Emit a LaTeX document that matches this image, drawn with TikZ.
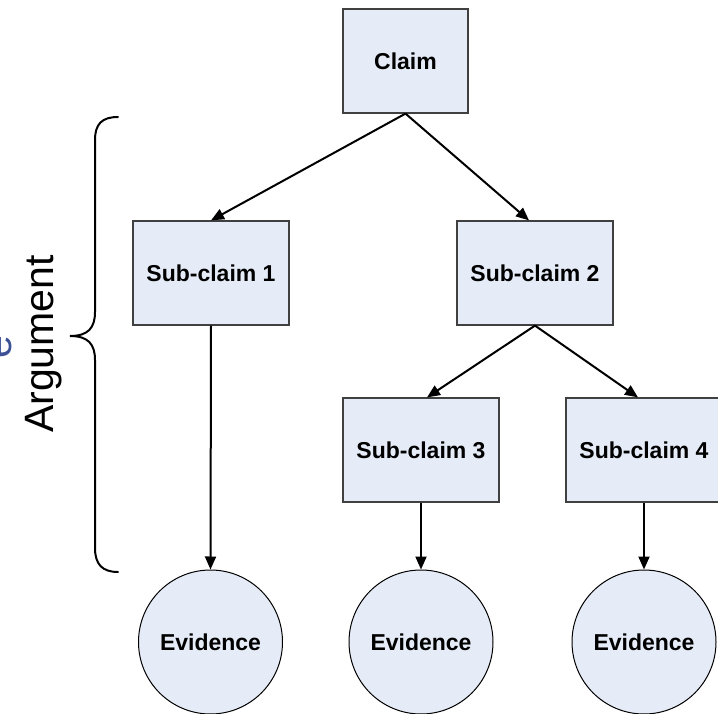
\documentclass[tikz,border=0pt]{standalone}
\usepackage{fontspec}
\setmainfont{Liberation Sans}
\usetikzlibrary{arrows.meta}
\definecolor{boxfill}{RGB}{230,236,247}
\definecolor{labelblue}{RGB}{60,80,150}
\tikzset{
  claimbox/.style={draw=black!75, line width=1.2pt, fill=boxfill, minimum width=156pt, minimum height=104pt, inner sep=0pt, font=\fontsize{23}{27}\selectfont\bfseries},
  evidence/.style={draw=black, line width=1pt, fill=boxfill, circle, minimum size=144pt, inner sep=0pt, font=\fontsize{23}{27}\selectfont\bfseries},
  arr/.style={line width=2pt, -{Triangle[length=13pt,width=11pt]}},
}
\begin{document}
\begin{tikzpicture}[x=1pt,y=-1pt]
\useasboundingbox (0,0) rectangle (718,714);
\node[claimbox, minimum width=125pt] (claim) at (405.5,61) {Claim};
\node[claimbox] (s1) at (211,273) {Sub-claim 1};
\node[claimbox] (s2) at (535,273) {Sub-claim 2};
\node[claimbox] (s3) at (421,450) {Sub-claim 3};
\node[claimbox] (s4) at (644,450) {Sub-claim 4};
\node[evidence] (e1) at (210.5,642) {Evidence};
\node[evidence] (e2) at (421,642) {Evidence};
\node[evidence] (e3) at (644,642) {Evidence};
\draw[arr] (claim.south) -- (s1.north);
\draw[arr] (claim.south) -- ([xshift=-6pt]s2.north);
\draw[arr] (s2.south) -- ([xshift=6pt]s3.north);
\draw[arr] (s2.south) -- ([xshift=-6pt]s4.north);
\draw[arr] (s1.south) -- (e1.north);
\draw[arr] (s3.south) -- (e2.north);
\draw[arr] (s4.south) -- (e3.north);
% brace
\coordinate (btop) at (118,117);
\coordinate (btip) at (70,336);
\coordinate (bbot) at (118,572);
\draw[line width=2pt, line cap=round] (btop) .. controls (102,117) and (95,124) .. (95,140)
  -- (95,312) .. controls (95,328) and (88,336) .. (btip)
  .. controls (88,336) and (95,344) .. (95,360)
  -- (95,548) .. controls (95,564) and (102,572) .. (bbot);
\node[rotate=90, anchor=base, font=\fontsize{41}{48}\selectfont] (arg) at (53,344) {Argument};
\node[rotate=90, anchor=base, font=\fontsize{41}{48}\selectfont, text=labelblue, inner sep=0pt] (cut) at (11,347) {e};
\end{tikzpicture}
\end{document}
